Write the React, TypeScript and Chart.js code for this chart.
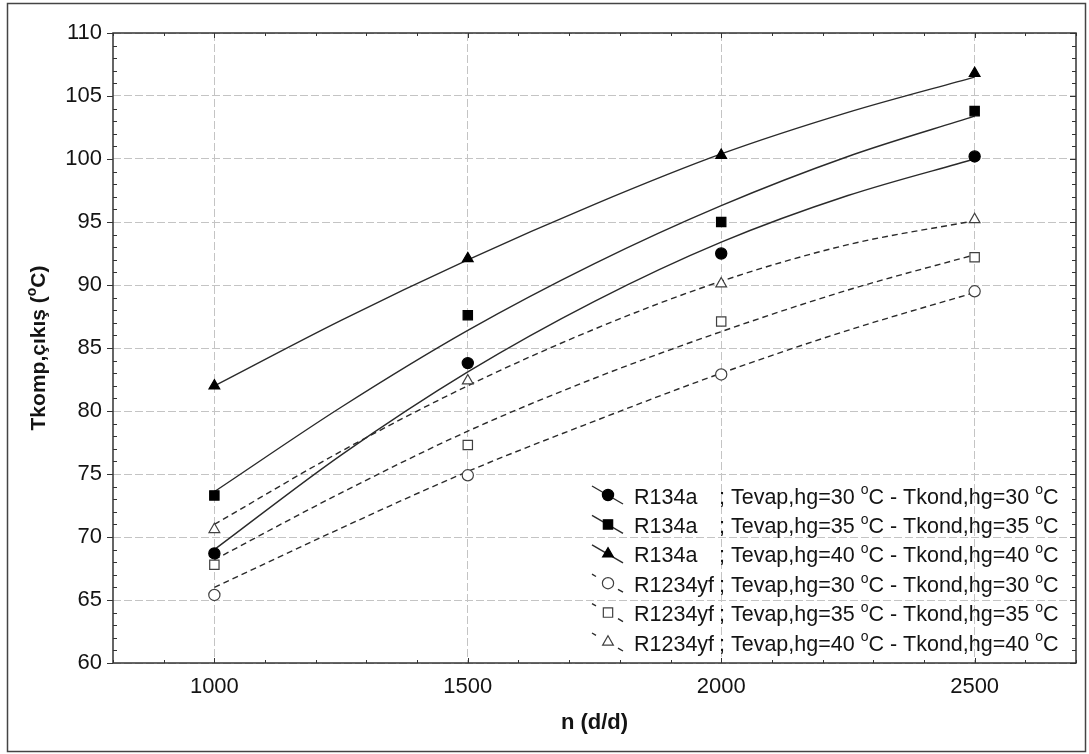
import React, { useEffect, useRef } from "react";
import { Chart, registerables } from "chart.js";

Chart.register(...registerables);

// ---------- data ----------
const speedN = [1000, 1500, 2000, 2500];
const fitN = [1000, 1250, 1500, 1750, 2000, 2250, 2500];
const xTickValues = [1000, 1500, 2000, 2500];
const yTickValues = [60, 65, 70, 75, 80, 85, 90, 95, 100, 105, 110];

// measured points (°C)
const r134a30 = [68.7, 83.8, 92.5, 100.2];
const r134a35 = [73.3, 87.6, 95.0, 103.8];
const r134a40 = [82.0, 92.1, 100.3, 106.8];
const r1234yf30 = [65.4, 74.9, 82.9, 89.5];
const r1234yf35 = [67.8, 77.3, 87.1, 92.2];
const r1234yf40 = [70.6, 82.4, 90.1, 95.2];

// fitted curves (°C)
const fitR134a30 = [69.0, 76.5, 83.1, 88.7, 93.4, 97.1, 100.0];
const fitR134a35 = [73.6, 80.3, 86.4, 91.7, 96.3, 100.2, 103.4];
const fitR134a40 = [82.0, 87.2, 92.0, 96.4, 100.4, 103.7, 106.5];
const fitR1234yf30 = [66.0, 70.7, 75.2, 79.2, 83.0, 86.4, 89.4];
const fitR1234yf35 = [68.2, 73.5, 78.4, 82.6, 86.3, 89.6, 92.4];
const fitR1234yf40 = [71.0, 76.8, 82.0, 86.5, 90.3, 93.2, 95.1];

const refrigerants = ["R134a", "R134a", "R134a", "R1234yf", "R1234yf", "R1234yf"];
const temps = [30, 35, 40, 30, 35, 40];
const markerShapes = ["circle", "rect", "triangle", "circle", "rect", "triangle"];
const markerFilled = [true, true, true, false, false, false];
const pointSeries = [r134a30, r134a35, r134a40, r1234yf30, r1234yf35, r1234yf40];
const fitSeries = [fitR134a30, fitR134a35, fitR134a40, fitR1234yf30, fitR1234yf35, fitR1234yf40];

const xTitle = "n (d/d)";
const yTitleParts = [
  { t: "Tkomp,çıkış (", sup: false },
  { t: "o", sup: true },
  { t: "C)", sup: false },
];

const FONT = "'Liberation Sans', Arial, sans-serif";
const LINE_COLOR = "#2a2a2a";
const OPEN_COLOR = "#404040";
const TEXT_COLOR = "#141414";

function markerRadius(shape: string) {
  if (shape === "rect") return 6.6;
  if (shape === "triangle") return 6.2;
  return 5.6;
}

function drawMarker(ctx: CanvasRenderingContext2D, shape: string, filled: boolean, x: number, y: number) {
  const r = markerRadius(shape);
  ctx.save();
  ctx.beginPath();
  if (shape === "circle") {
    ctx.arc(x, y, r, 0, Math.PI * 2);
  } else if (shape === "rect") {
    const s = Math.SQRT1_2 * r;
    ctx.rect(x - s, y - s, 2 * s, 2 * s);
  } else {
    ctx.moveTo(x, y - r);
    ctx.lineTo(x + r * 0.866, y + r * 0.5);
    ctx.lineTo(x - r * 0.866, y + r * 0.5);
    ctx.closePath();
  }
  ctx.fillStyle = filled ? "#000" : "#fff";
  ctx.fill();
  ctx.lineWidth = 1.2;
  ctx.strokeStyle = filled ? "#000" : OPEN_COLOR;
  ctx.stroke();
  ctx.restore();
}

type Part = { t: string; sup: boolean };

function measureParts(ctx: CanvasRenderingContext2D, parts: Part[], size: number, weight: string) {
  let w = 0;
  for (const p of parts) {
    ctx.font = `${weight} ${p.sup ? Math.round(size * 0.66) : size}px ${FONT}`;
    w += ctx.measureText(p.t).width;
  }
  return w;
}

function drawParts(ctx: CanvasRenderingContext2D, parts: Part[], x: number, y: number, size: number, weight: string) {
  let cx = x;
  ctx.textBaseline = "alphabetic";
  ctx.textAlign = "left";
  for (const p of parts) {
    const fs = p.sup ? Math.round(size * 0.66) : size;
    ctx.font = `${weight} ${fs}px ${FONT}`;
    ctx.fillText(p.t, cx, p.sup ? y - size * 0.42 : y);
    cx += ctx.measureText(p.t).width;
  }
  return cx;
}

const decorPlugin = {
  id: "decor",
  beforeDraw(chart: any) {
    const ctx = chart.ctx;
    ctx.save();
    ctx.fillStyle = "#fff";
    ctx.fillRect(0, 0, chart.width, chart.height);
    ctx.restore();
  },
  afterDraw(chart: any) {
    const ctx: CanvasRenderingContext2D = chart.ctx;
    const a = chart.chartArea;
    const xs = chart.scales.x;
    const ys = chart.scales.y;
    ctx.save();

    // plot frame
    ctx.strokeStyle = "#333";
    ctx.lineWidth = 1.5;
    ctx.strokeRect(a.left, a.top, a.right - a.left, a.bottom - a.top);

    // tick marks
    ctx.lineWidth = 1;
    ctx.strokeStyle = "#333";
    ctx.beginPath();
    for (let v = ys.min; v <= ys.max + 1e-9; v += 1) {
      const py = Math.round(ys.getPixelForValue(v)) + 0.5;
      const major = yTickValues.includes(v);
      if (major) {
        ctx.moveTo(a.left - 6, py);
        ctx.lineTo(a.left, py);
        ctx.moveTo(a.right - 6, py);
        ctx.lineTo(a.right, py);
      } else {
        ctx.moveTo(a.left, py);
        ctx.lineTo(a.left + 4, py);
        ctx.moveTo(a.right - 4, py);
        ctx.lineTo(a.right, py);
      }
    }
    for (let v = xs.min; v <= xs.max + 1e-9; v += 100) {
      const px = Math.round(xs.getPixelForValue(v)) + 0.5;
      const major = xTickValues.includes(v);
      const len = major ? 5 : 3;
      ctx.moveTo(px, a.bottom);
      ctx.lineTo(px, a.bottom - len);
      ctx.moveTo(px, a.top);
      ctx.lineTo(px, a.top + len);
    }
    ctx.stroke();

    // legend
    const lx = a.right - 484;
    const ly0 = a.bottom - 167;
    const rowH = 29.4;
    for (let i = 0; i < refrigerants.length; i++) {
      const y = ly0 + i * rowH;
      ctx.strokeStyle = LINE_COLOR;
      ctx.lineWidth = 1.4;
      ctx.beginPath();
      if (markerFilled[i]) {
        ctx.moveTo(lx, y - 10);
        ctx.lineTo(lx + 31, y + 8);
      } else {
        ctx.moveTo(lx, y - 10);
        ctx.lineTo(lx + 4, y - 7.7);
        ctx.moveTo(lx + 26, y + 5.1);
        ctx.lineTo(lx + 31, y + 8);
      }
      ctx.stroke();
      drawMarker(ctx, markerShapes[i], markerFilled[i], lx + 16, y - 1);
      ctx.fillStyle = TEXT_COLOR;
      drawParts(ctx, [{ t: refrigerants[i], sup: false }], lx + 42, y + 7.5, 21.5, "normal");
      const parts: Part[] = [
        { t: `; Tevap,hg=${temps[i]} `, sup: false },
        { t: "o", sup: true },
        { t: `C - Tkond,hg=${temps[i]} `, sup: false },
        { t: "o", sup: true },
        { t: "C", sup: false },
      ];
      drawParts(ctx, parts, lx + 127, y + 7.5, 21.5, "normal");
    }

    // axis titles
    ctx.fillStyle = TEXT_COLOR;
    ctx.font = `bold 22px ${FONT}`;
    ctx.textAlign = "center";
    ctx.textBaseline = "middle";
    ctx.fillText(xTitle, (a.left + a.right) / 2, a.bottom + 60);

    const tw = measureParts(ctx, yTitleParts, 21, "bold");
    ctx.save();
    ctx.translate(45, (a.top + a.bottom) / 2);
    ctx.rotate(-Math.PI / 2);
    drawParts(ctx, yTitleParts, -tw / 2, 0, 21, "bold");
    ctx.restore();

    // outer frame
    ctx.strokeStyle = "#444";
    ctx.lineWidth = 1.5;
    ctx.strokeRect(7.5, 3.5, 1078, 748);
    ctx.restore();
  },
};

export default function App() {
  const ref = useRef<HTMLCanvasElement | null>(null);
  useEffect(() => {
    if (!ref.current) return;
    const pointSets = pointSeries.map((vals, i) => ({
      type: "line" as const,
      label: `${refrigerants[i]} ${temps[i]}`,
      data: vals.map((v, k) => ({ x: speedN[k], y: v })),
      showLine: false,
      pointStyle: markerShapes[i],
      pointRadius: markerRadius(markerShapes[i]),
      pointBackgroundColor: markerFilled[i] ? "#000" : "#fff",
      pointBorderColor: markerFilled[i] ? "#000" : OPEN_COLOR,
      pointBorderWidth: 1.2,
      order: 0,
    }));
    const fitSets = fitSeries.map((vals, i) => ({
      type: "line" as const,
      label: `fit ${refrigerants[i]} ${temps[i]}`,
      data: vals.map((v, k) => ({ x: fitN[k], y: v })),
      borderColor: LINE_COLOR,
      borderWidth: 1.4,
      borderDash: markerFilled[i] ? [] : [6, 4],
      pointRadius: 0,
      cubicInterpolationMode: "monotone" as const,
      fill: false,
      order: 1,
    }));
    const chart = new Chart(ref.current, {
      type: "line",
      data: { datasets: [...pointSets, ...fitSets] as any },
      options: {
        animation: false,
        responsive: false,
        maintainAspectRatio: false,
        layout: { padding: { top: 33, right: 13, left: 0, bottom: 0 } },
        plugins: { legend: { display: false }, tooltip: { enabled: false } },
        scales: {
          x: {
            type: "linear",
            min: 800,
            max: 2700,
            afterBuildTicks: (s: any) => {
              s.ticks = xTickValues.map((v) => ({ value: v }));
            },
            afterFit: (s: any) => {
              s.height = 91;
            },
            ticks: {
              font: { family: FONT, size: 22 },
              color: TEXT_COLOR,
              padding: 11,
              maxRotation: 0,
              callback: (v: any) => String(v),
            },
            grid: { color: "#c4c4c4", lineWidth: 1, drawTicks: false },
            border: { display: false, dash: [8, 3] },
          },
          y: {
            type: "linear",
            min: 60,
            max: 110,
            afterBuildTicks: (s: any) => {
              s.ticks = yTickValues.map((v) => ({ value: v }));
            },
            afterFit: (s: any) => {
              s.width = 113;
            },
            ticks: {
              font: { family: FONT, size: 22 },
              color: TEXT_COLOR,
              padding: 11,
              callback: (v: any) => String(v),
            },
            grid: { color: "#c4c4c4", lineWidth: 1, drawTicks: false },
            border: { display: false, dash: [8, 3] },
          },
        },
      },
      plugins: [decorPlugin],
    });
    return () => chart.destroy();
  }, []);
  return (
    <div style={{ position: "fixed", left: 0, top: 0, width: 1089, height: 754, background: "#fff" }}>
      <canvas ref={ref} width={1089} height={754} style={{ width: 1089, height: 754 }} />
    </div>
  );
}
